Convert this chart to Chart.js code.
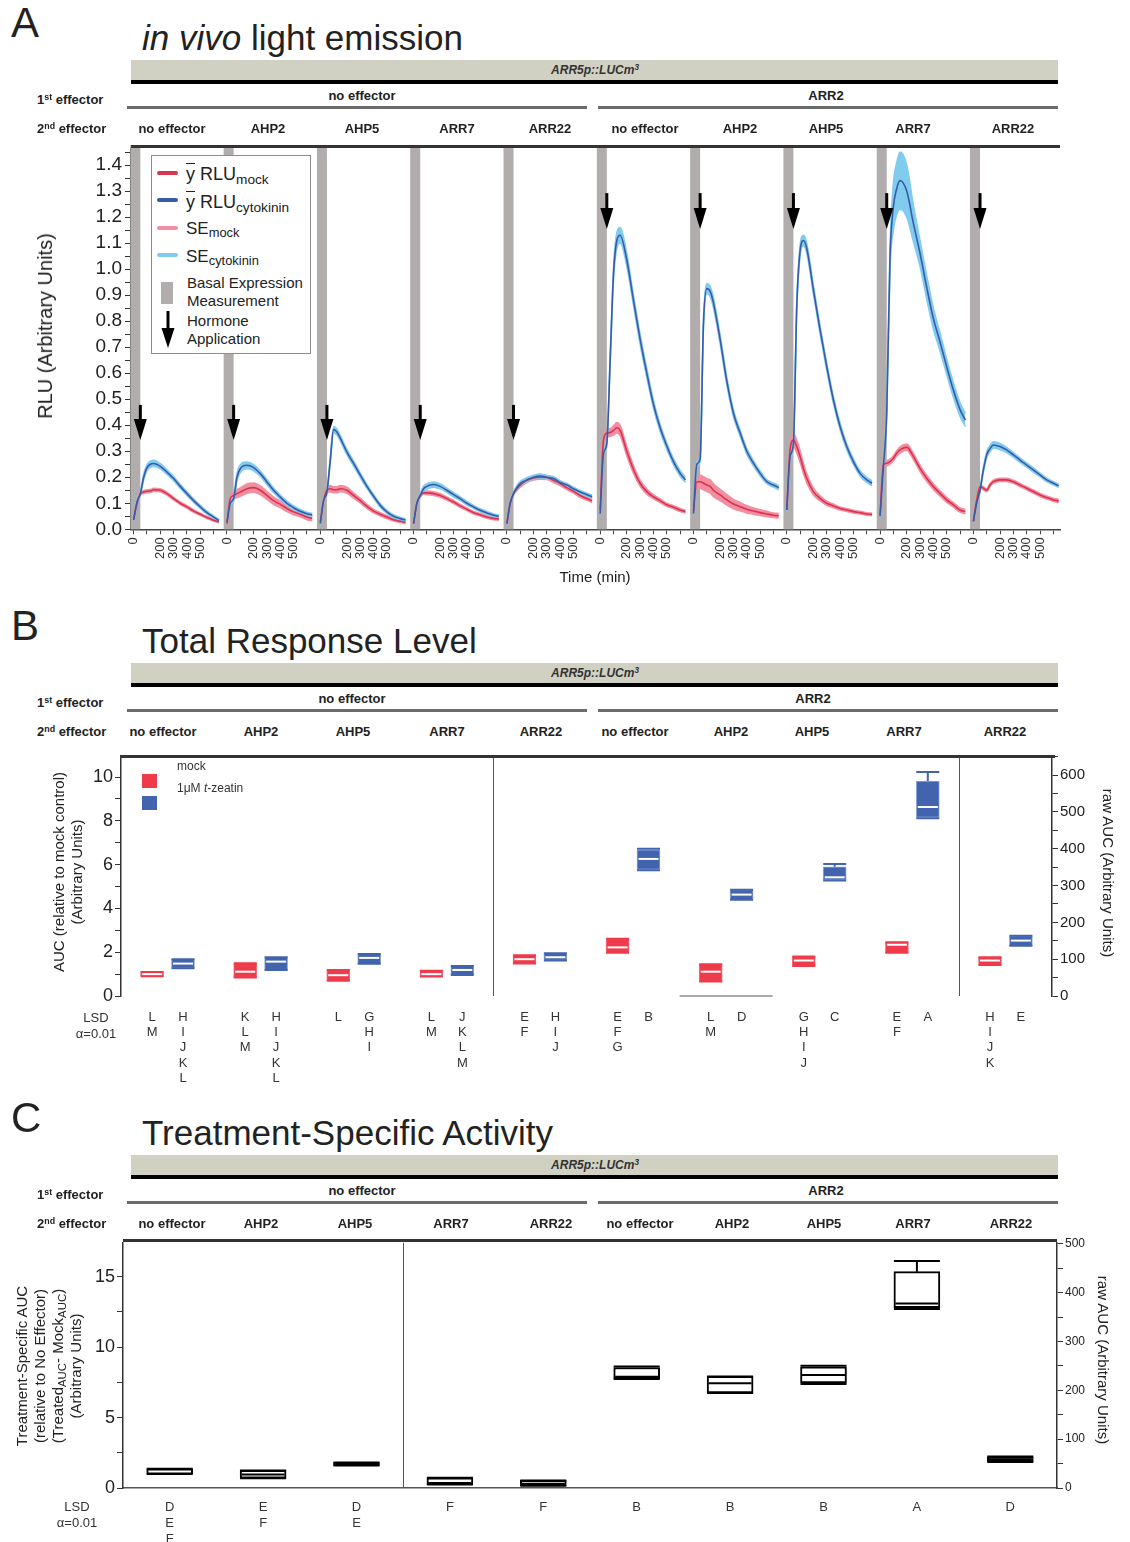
<!DOCTYPE html>
<html>
<head>
<meta charset="utf-8">
<title>ARR5p::LUCm3 response</title>
<script src="https://cdn.jsdelivr.net/npm/chart.js@4.4.1/dist/chart.umd.min.js"></script>
<style>
  body { margin: 0; background: #fff; }
  #page { position: relative; width: 1130px; height: 1542px; overflow: hidden;
          font-family: "Liberation Sans", Arial, Helvetica, sans-serif; color: #222; }
  #page canvas { position: absolute; left: 0; }
  .t { position: absolute; white-space: nowrap; line-height: 1; }
  .b { position: absolute; }
  .sub { font-size: 0.76em; position: relative; top: 0.3em; line-height: 0; }
  .sup { font-size: 0.68em; position: relative; top: -0.45em; line-height: 0; }
</style>
</head>
<body>
<div id="page">
  <canvas id="chartA" width="1130" height="470" style="top:130px"></canvas>
  <canvas id="chartB" width="1130" height="360" style="top:740px"></canvas>
  <canvas id="chartC" width="1130" height="312" style="top:1230px"></canvas>
</div>
<script>
// ---------- data ----------
const firstEffector = ['no effector', 'ARR2'];
const secondEffector = ['no effector', 'AHP2', 'AHP5', 'ARR7', 'ARR22',
                        'no effector', 'AHP2', 'AHP5', 'ARR7', 'ARR22'];

// panel A: time courses, one row per effector combination
const panelSpan = 700;                 // minutes between panel origins on the shared axis
const timeMin = [0, 25, 50, 75, 100, 125, 150, 200, 250, 300, 350, 400, 450, 500, 550, 600, 640];
const timeTickLabels = [0, 200, 300, 400, 500];
const basalWindow = [-25, 50];         // basal expression measurement (min)
const arrowTime = 50;                  // hormone application (min)
const arrowTop = [0.478, 0.478, 0.478, 0.478, 0.478, 1.292, 1.292, 1.292, 1.292, 1.292];
const arrowTip = [0.343, 0.343, 0.343, 0.343, 0.343, 1.154, 1.154, 1.154, 1.154, 1.154];

const mockMean = [
  [0.040, 0.100, 0.137, 0.143, 0.146, 0.147, 0.152, 0.150, 0.137, 0.118, 0.100, 0.086, 0.070, 0.058, 0.045, 0.035, 0.029],
  [0.022, 0.118, 0.130, 0.137, 0.143, 0.150, 0.156, 0.160, 0.150, 0.130, 0.110, 0.096, 0.080, 0.067, 0.058, 0.047, 0.042],
  [0.028, 0.110, 0.150, 0.156, 0.152, 0.152, 0.156, 0.150, 0.130, 0.110, 0.088, 0.070, 0.058, 0.047, 0.037, 0.031, 0.027],
  [0.022, 0.100, 0.130, 0.140, 0.140, 0.139, 0.137, 0.130, 0.118, 0.105, 0.090, 0.077, 0.064, 0.056, 0.047, 0.042, 0.040],
  [0.022, 0.100, 0.137, 0.156, 0.170, 0.180, 0.188, 0.197, 0.200, 0.199, 0.188, 0.176, 0.160, 0.146, 0.130, 0.118, 0.110],
  [0.074, 0.343, 0.370, 0.372, 0.380, 0.390, 0.380, 0.300, 0.230, 0.177, 0.145, 0.125, 0.110, 0.094, 0.085, 0.074, 0.068],
  [0.070, 0.183, 0.183, 0.177, 0.170, 0.165, 0.150, 0.132, 0.113, 0.097, 0.087, 0.077, 0.070, 0.064, 0.059, 0.054, 0.052],
  [0.074, 0.305, 0.343, 0.318, 0.280, 0.234, 0.196, 0.145, 0.119, 0.100, 0.090, 0.080, 0.074, 0.068, 0.064, 0.059, 0.057],
  [0.055, 0.247, 0.254, 0.260, 0.273, 0.292, 0.305, 0.316, 0.280, 0.234, 0.196, 0.164, 0.138, 0.113, 0.094, 0.074, 0.068],
  [0.030, 0.113, 0.164, 0.158, 0.150, 0.170, 0.183, 0.190, 0.190, 0.183, 0.170, 0.158, 0.145, 0.132, 0.122, 0.113, 0.109]
];
const mockSE = [
  [0.004, 0.006, 0.006, 0.006, 0.006, 0.006, 0.006, 0.006, 0.006, 0.005, 0.005, 0.005, 0.005, 0.004, 0.004, 0.004, 0.004],
  [0.005, 0.010, 0.012, 0.015, 0.016, 0.017, 0.018, 0.018, 0.017, 0.015, 0.014, 0.013, 0.012, 0.011, 0.010, 0.010, 0.009],
  [0.004, 0.008, 0.010, 0.012, 0.012, 0.012, 0.012, 0.012, 0.010, 0.009, 0.008, 0.007, 0.006, 0.006, 0.005, 0.005, 0.005],
  [0.004, 0.006, 0.006, 0.006, 0.007, 0.007, 0.007, 0.007, 0.006, 0.006, 0.006, 0.005, 0.005, 0.005, 0.005, 0.005, 0.005],
  [0.004, 0.006, 0.006, 0.008, 0.008, 0.008, 0.008, 0.008, 0.008, 0.008, 0.008, 0.008, 0.007, 0.007, 0.007, 0.007, 0.007],
  [0.005, 0.012, 0.015, 0.015, 0.018, 0.020, 0.020, 0.018, 0.015, 0.012, 0.010, 0.008, 0.007, 0.006, 0.006, 0.006, 0.005],
  [0.005, 0.020, 0.025, 0.025, 0.025, 0.025, 0.025, 0.022, 0.020, 0.018, 0.016, 0.014, 0.012, 0.011, 0.010, 0.009, 0.009],
  [0.005, 0.015, 0.025, 0.025, 0.022, 0.020, 0.018, 0.013, 0.010, 0.008, 0.007, 0.006, 0.006, 0.005, 0.005, 0.005, 0.005],
  [0.005, 0.010, 0.010, 0.010, 0.010, 0.010, 0.012, 0.012, 0.012, 0.012, 0.012, 0.011, 0.010, 0.010, 0.009, 0.008, 0.008],
  [0.004, 0.006, 0.006, 0.006, 0.006, 0.006, 0.006, 0.006, 0.006, 0.006, 0.006, 0.006, 0.006, 0.006, 0.006, 0.006, 0.006]
];
const cytoMean = [
  [0.035, 0.105, 0.137, 0.200, 0.237, 0.250, 0.253, 0.242, 0.220, 0.195, 0.165, 0.137, 0.110, 0.086, 0.064, 0.047, 0.034],
  [0.028, 0.100, 0.118, 0.200, 0.233, 0.244, 0.246, 0.237, 0.214, 0.182, 0.150, 0.124, 0.100, 0.083, 0.069, 0.060, 0.055],
  [0.022, 0.110, 0.143, 0.265, 0.383, 0.374, 0.350, 0.297, 0.253, 0.208, 0.165, 0.127, 0.092, 0.067, 0.050, 0.041, 0.036],
  [0.022, 0.100, 0.130, 0.156, 0.165, 0.170, 0.172, 0.165, 0.150, 0.133, 0.118, 0.100, 0.086, 0.073, 0.063, 0.054, 0.050],
  [0.022, 0.100, 0.137, 0.160, 0.176, 0.184, 0.190, 0.200, 0.205, 0.200, 0.195, 0.180, 0.170, 0.156, 0.143, 0.133, 0.125],
  [0.060, 0.290, 0.330, 0.650, 0.980, 1.110, 1.130, 1.035, 0.880, 0.730, 0.600, 0.480, 0.390, 0.320, 0.260, 0.215, 0.190],
  [0.060, 0.250, 0.270, 0.790, 0.925, 0.915, 0.870, 0.730, 0.570, 0.446, 0.370, 0.300, 0.254, 0.215, 0.183, 0.170, 0.160],
  [0.074, 0.280, 0.330, 0.856, 1.070, 1.110, 1.080, 0.920, 0.766, 0.625, 0.497, 0.395, 0.318, 0.260, 0.215, 0.190, 0.177],
  [0.050, 0.240, 0.450, 1.050, 1.240, 1.310, 1.340, 1.300, 1.176, 1.060, 0.930, 0.810, 0.720, 0.625, 0.535, 0.460, 0.420],
  [0.030, 0.100, 0.150, 0.228, 0.286, 0.310, 0.324, 0.318, 0.305, 0.286, 0.266, 0.247, 0.228, 0.209, 0.190, 0.177, 0.167]
];
const cytoSE = [
  [0.004, 0.008, 0.008, 0.012, 0.012, 0.012, 0.012, 0.010, 0.009, 0.008, 0.008, 0.007, 0.007, 0.006, 0.006, 0.005, 0.005],
  [0.004, 0.008, 0.010, 0.015, 0.015, 0.014, 0.013, 0.012, 0.010, 0.010, 0.009, 0.008, 0.008, 0.007, 0.007, 0.006, 0.006],
  [0.004, 0.008, 0.008, 0.012, 0.012, 0.012, 0.011, 0.010, 0.010, 0.009, 0.008, 0.007, 0.007, 0.006, 0.006, 0.005, 0.005],
  [0.004, 0.006, 0.008, 0.010, 0.010, 0.010, 0.010, 0.009, 0.008, 0.008, 0.007, 0.007, 0.006, 0.006, 0.006, 0.005, 0.005],
  [0.004, 0.006, 0.006, 0.008, 0.008, 0.008, 0.008, 0.008, 0.008, 0.007, 0.007, 0.007, 0.006, 0.006, 0.006, 0.006, 0.006],
  [0.005, 0.010, 0.010, 0.020, 0.025, 0.030, 0.030, 0.025, 0.020, 0.020, 0.018, 0.016, 0.014, 0.012, 0.012, 0.011, 0.010],
  [0.005, 0.010, 0.010, 0.020, 0.020, 0.020, 0.020, 0.018, 0.016, 0.014, 0.012, 0.011, 0.010, 0.009, 0.008, 0.008, 0.008],
  [0.005, 0.010, 0.010, 0.020, 0.020, 0.020, 0.020, 0.018, 0.016, 0.015, 0.014, 0.013, 0.012, 0.011, 0.010, 0.010, 0.010],
  [0.005, 0.010, 0.020, 0.050, 0.090, 0.100, 0.110, 0.100, 0.070, 0.050, 0.045, 0.040, 0.035, 0.030, 0.028, 0.026, 0.025],
  [0.004, 0.006, 0.008, 0.010, 0.012, 0.012, 0.012, 0.012, 0.010, 0.009, 0.009, 0.008, 0.008, 0.007, 0.007, 0.006, 0.006]
];

// panel B: total response level (AUC relative to mock control), box statistics
const groupIdx = [0, 1, 2, 3, 4, 5, 6, 7, 8, 9];
const mockMin = [0.90, 0.84, 0.70, 0.89, 1.48, 1.98, 0.66, 1.37, 1.98, 1.42];
const mockQ1  = [0.90, 0.84, 0.70, 0.89, 1.48, 1.98, 0.66, 1.37, 1.98, 1.42];
const mockMed = [1.00, 1.11, 0.95, 1.00, 1.68, 2.22, 1.11, 1.62, 2.34, 1.62];
const mockQ3  = [1.10, 1.50, 1.19, 1.15, 1.86, 2.61, 1.45, 1.80, 2.46, 1.77];
const mockMax = [1.10, 1.50, 1.19, 1.15, 1.86, 2.61, 1.45, 1.80, 2.46, 1.77];
const zeaMin = [1.27, 1.19, 1.47, 0.96, 1.62, 5.74, 4.40, 5.28, 8.12, 2.30];
const zeaQ1  = [1.27, 1.19, 1.47, 0.96, 1.62, 5.78, 4.40, 5.30, 8.15, 2.30];
const zeaMed = [1.48, 1.57, 1.74, 1.19, 1.77, 6.26, 4.63, 5.42, 8.63, 2.53];
const zeaQ3  = [1.68, 1.77, 1.92, 1.37, 1.95, 6.68, 4.85, 5.90, 9.82, 2.75];
const zeaMax = [1.68, 1.77, 1.92, 1.37, 1.95, 6.72, 4.85, 6.03, 10.23, 2.75];
const lsdMock = ['LM', 'KLM', 'L', 'LM', 'EF', 'EFG', 'LM', 'GHIJ', 'EF', 'HIJK'];
const lsdZea  = ['HIJKL', 'HIJKL', 'GHI', 'JKLM', 'HIJ', 'B', 'D', 'C', 'A', 'E'];
const bDividers = [3.5, 8.5];
const bAxisPiece = [5.5, 6.5];

// panel C: treatment-specific AUC, box statistics
const tsMin = [0.99, 0.70, 1.60, 0.24, 0.16, 7.74, 6.75, 7.38, 12.70, 1.84];
const tsQ1  = [0.99, 0.70, 1.60, 0.24, 0.16, 7.76, 6.75, 7.45, 12.80, 1.86];
const tsMed = [1.00, 0.95, 1.70, 0.36, 0.30, 7.90, 7.43, 8.02, 13.10, 2.04];
const tsQ3  = [1.36, 1.25, 1.81, 0.73, 0.54, 8.55, 7.92, 8.60, 15.35, 2.22];
const tsMax = [1.36, 1.25, 1.81, 0.73, 0.54, 8.63, 7.92, 8.68, 16.10, 2.24];
const lsdTS = ['DEF', 'EF', 'DE', 'F', 'F', 'B', 'B', 'B', 'A', 'D'];
const cDividers = [2.5];

// ---------- colours ----------
const RED_LINE = '#d8334f', BLUE_LINE = '#3a5aa8';
const PINK_SE = '#f38ea1', CYAN_SE = '#80ccef';
const BASAL = '#b2adad';
const BOX_RED = '#ee3a4a', BOX_BLUE = '#4263ad';

Chart.defaults.font.family = '"Liberation Sans", Arial, Helvetica, sans-serif';
Chart.defaults.color = '#222';

// ---------- page text / rules ----------
const page = document.getElementById('page');

function txt(html, x, base, size, align, extra) {
  const d = document.createElement('div');
  d.className = 't';
  d.innerHTML = html;
  d.style.fontSize = size + 'px';
  d.style.top = (base - 0.85 * size) + 'px';
  d.style.left = x + 'px';
  if (align === 'center') d.style.transform = 'translateX(-50%)';
  if (align === 'right') d.style.transform = 'translateX(-100%)';
  if (extra) Object.assign(d.style, extra);
  page.appendChild(d);
  return d;
}
function rot(html, cx, cy, size, deg) {
  const d = document.createElement('div');
  d.className = 't';
  d.innerHTML = html;
  d.style.fontSize = size + 'px';
  d.style.left = cx + 'px';
  d.style.top = cy + 'px';
  d.style.transform = `translate(-50%,-50%) rotate(${deg}deg)`;
  page.appendChild(d);
}
function rect(x, y, w, h, color, extra) {
  const d = document.createElement('div');
  d.className = 'b';
  Object.assign(d.style, { left: x + 'px', top: y + 'px', width: w + 'px', height: h + 'px', background: color });
  if (extra) Object.assign(d.style, extra);
  page.appendChild(d);
  return d;
}

function header(dy, letter, title, firstX, secondX, frame) {
  txt(letter, 11, 38 + dy, 42);
  txt(title, 142, 50 + dy, 35);
  rect(131, 60 + dy, 927, 20, '#d1d1c3');
  txt('ARR5p::LUCm<span class="sup">3</span>', 595, 74 + dy, 12, 'center',
      { fontWeight: 'bold', fontStyle: 'italic', color: '#333' });
  rect(131, 80 + dy, 927, 4, '#000');
  const lab = { fontWeight: 'bold', color: '#222' };
  txt('1<span class="sup">st</span> effector', 37, 104 + dy, 13, null, lab);
  txt('2<span class="sup">nd</span> effector', 37, 133 + dy, 13, null, lab);
  firstEffector.forEach((s, i) => txt(s, firstX[i], 100 + dy, 13, 'center', lab));
  rect(127, 106 + dy, 460, 3, '#6b6b6b');
  rect(598, 106 + dy, 460, 3, '#6b6b6b');
  secondEffector.forEach((s, i) => txt(s, secondX[i], 133 + dy, 13, 'center', lab));
  rect(frame[0], frame[2], frame[1] - frame[0], 3, '#333');
}

header(0, 'A', '<i>in vivo</i> light emission', [362, 826],
       [172, 268, 362, 457, 550, 645, 740, 826, 913, 1013], [131, 1060, 145]);
header(603, 'B', 'Total Response Level', [352, 813],
       [163, 261, 353, 447, 541, 635, 731, 812, 904, 1005], [121, 1055, 755]);
header(1095, 'C', 'Treatment-Specific Activity', [362, 826],
       [172, 261, 355, 451, 551, 640, 732, 824, 913, 1011], [123, 1057, 1239]);

// axis titles
rot('RLU (Arbitrary Units)', 45, 326, 20, -90);
txt('Time (min)', 595, 582, 15, 'center');
rot('AUC (relative to mock control)', 58, 872, 15, -90);
rot('(Arbitrary Units)', 76, 872, 15, -90);
rot('raw AUC (Arbitrary Units)', 1108, 873, 15, 90);
rot('Treatment-Specific AUC', 21, 1366, 15, -90);
rot('(relative to No Effector)', 39, 1366, 15, -90);
rot('(Treated<span class="sub">AUC</span>- Mock<span class="sub">AUC</span>)', 57, 1366, 15, -90);
rot('(Arbitrary Units)', 75, 1366, 15, -90);
rot('raw AUC (Arbitrary Units)', 1103, 1360, 15, 90);
txt('LSD', 96, 1022, 13, 'center', { color: '#333' });
txt('α=0.01', 96, 1038, 13, 'center', { color: '#333' });
txt('LSD', 77, 1511, 13, 'center', { color: '#333' });
txt('α=0.01', 77, 1527, 13, 'center', { color: '#333' });

// panel A legend
rect(151, 155, 158, 197, '#fff', { border: '1px solid #8c8c8c' });
const sw = (y, c) => rect(157, y - 2, 21, 4, c, { borderRadius: '2px' });
sw(173, RED_LINE); sw(200, BLUE_LINE); sw(228, PINK_SE); sw(255, CYAN_SE);
const ybar = '<span style="text-decoration:overline">y</span>';
txt(ybar + ' RLU<span class="sub">mock</span>', 186, 180, 18);
txt(ybar + ' RLU<span class="sub">cytokinin</span>', 186, 208, 18);
txt('SE<span class="sub">mock</span>', 186, 234, 17);
txt('SE<span class="sub">cytokinin</span>', 186, 262, 17);
rect(161, 282, 12, 22, BASAL);
txt('Basal Expression', 187, 288, 15);
txt('Measurement', 187, 306, 15);
const arr = document.createElementNS('http://www.w3.org/2000/svg', 'svg');
arr.setAttribute('width', '16'); arr.setAttribute('height', '38');
arr.style.position = 'absolute'; arr.style.left = '160px'; arr.style.top = '311px';
arr.innerHTML = '<rect x="6.5" y="0" width="3" height="18" fill="#000"/><polygon points="1.5,17 14.5,17 8,37" fill="#000"/>';
page.appendChild(arr);
txt('Hormone', 187, 326, 15);
txt('Application', 187, 344, 15);

// panel B legend
rect(142, 774, 15, 14, BOX_RED);
rect(142, 796, 15, 14, BOX_BLUE);
txt('mock', 177, 770, 12, null, { color: '#333' });
txt('1μM <i>t</i>-zeatin', 177, 792, 12, null, { color: '#333' });

// ---------- helpers for chart.js ----------
// fixed tick positions every `step`, from 0 up to the axis max
const everyStep = step => scale => {
  const out = [];
  for (let i = 0; i * step <= scale.max + 1e-9; i++) out.push({ value: +(i * step).toFixed(6) });
  scale.ticks = out;
};

const basalPlugin = {
  id: 'basal',
  beforeDatasetsDraw(chart) {
    const { ctx, chartArea, scales: { x } } = chart;
    ctx.save();
    ctx.fillStyle = BASAL;
    mockMean.forEach((_, k) => {
      const x0 = x.getPixelForValue(k * panelSpan + basalWindow[0]);
      const x1 = x.getPixelForValue(k * panelSpan + basalWindow[1]);
      ctx.fillRect(x0, chartArea.top - 4, x1 - x0, chartArea.bottom - chartArea.top + 4);
    });
    ctx.restore();
  }
};

const arrowPlugin = {
  id: 'arrows',
  afterDatasetsDraw(chart) {
    const { ctx, scales: { x, y } } = chart;
    ctx.save();
    ctx.fillStyle = '#000';
    arrowTop.forEach((top, k) => {
      const px = x.getPixelForValue(k * panelSpan + arrowTime);
      const y0 = y.getPixelForValue(top);
      const y1 = y.getPixelForValue(arrowTip[k]);
      const head = 21;
      ctx.fillRect(px - 1.5, y0, 3, y1 - y0 - head + 1);
      ctx.beginPath();
      ctx.moveTo(px - 6.5, y1 - head);
      ctx.lineTo(px + 6.5, y1 - head);
      ctx.lineTo(px, y1);
      ctx.closePath();
      ctx.fill();
    });
    ctx.restore();
  }
};

function boxParts(series) {
  return {
    id: 'boxParts',
    afterDatasetsDraw(chart) {
      const { ctx, scales: { x, y } } = chart;
      ctx.save();
      ctx.lineWidth = 2;
      series.forEach(s => {
        const half = s.width / 2;
        s.pos.forEach((p, i) => {
          const cx = x.getPixelForValue(p);
          const yMin = y.getPixelForValue(s.min[i]), yMax = y.getPixelForValue(s.max[i]);
          const yQ1 = y.getPixelForValue(s.q1[i]), yQ3 = y.getPixelForValue(s.q3[i]);
          ctx.strokeStyle = s.whisker;
          ctx.beginPath();
          ctx.moveTo(cx, yQ3); ctx.lineTo(cx, yMax);
          ctx.moveTo(cx, yQ1); ctx.lineTo(cx, yMin);
          ctx.moveTo(cx - half, yMax); ctx.lineTo(cx + half, yMax);
          ctx.moveTo(cx - half, yMin); ctx.lineTo(cx + half, yMin);
          ctx.stroke();
          const yMed = y.getPixelForValue(s.med[i]);
          ctx.strokeStyle = s.median;
          ctx.beginPath();
          ctx.moveTo(cx - half + 1.5, yMed); ctx.lineTo(cx + half - 1.5, yMed);
          ctx.stroke();
        });
      });
      ctx.restore();
    }
  };
}

function dividers(vals) {
  return {
    id: 'dividers',
    afterDatasetsDraw(chart) {
      const { ctx, chartArea, scales: { x } } = chart;
      ctx.save();
      ctx.strokeStyle = '#555';
      ctx.lineWidth = 1;
      vals.forEach(v => {
        const px = Math.round(x.getPixelForValue(v)) + 0.5;
        ctx.beginPath();
        ctx.moveTo(px, chartArea.top);
        ctx.lineTo(px, chartArea.bottom);
        ctx.stroke();
      });
      ctx.restore();
    }
  };
}

function lsdLetters(rows, gap, step) {
  return {
    id: 'lsd',
    afterDraw(chart) {
      const { ctx, chartArea, scales: { x } } = chart;
      ctx.save();
      ctx.font = '13px "Liberation Sans", Arial, sans-serif';
      ctx.fillStyle = '#333';
      ctx.textAlign = 'center';
      ctx.textBaseline = 'middle';
      rows.forEach(r => r.pos.forEach((p, i) => {
        const cx = x.getPixelForValue(p);
        [...r.letters[i]].forEach((ch, j) => ctx.fillText(ch, cx, chartArea.bottom + gap + j * step));
      }));
      ctx.restore();
    }
  };
}

// ---------- chart A ----------
const datasetsA = [];
const band = (pts, color, order, fill) => ({
  data: pts, borderColor: color, backgroundColor: color, borderWidth: 1.5,
  pointRadius: 0, fill, order, cubicInterpolationMode: 'monotone'
});
const meanLine = (pts, color, order) => ({
  data: pts, borderColor: color, borderWidth: 1.6, pointRadius: 0,
  fill: false, order, cubicInterpolationMode: 'monotone'
});
mockMean.forEach((m, k) => {
  const off = k * panelSpan;
  const pts = vals => timeMin.map((t, i) => ({ x: off + t, y: vals[i] }));
  const c = cytoMean[k];
  datasetsA.push(band(pts(m.map((v, i) => v - mockSE[k][i])), PINK_SE, 3, false));
  datasetsA.push(band(pts(m.map((v, i) => v + mockSE[k][i])), PINK_SE, 3, '-1'));
  datasetsA.push(band(pts(c.map((v, i) => v - cytoSE[k][i])), CYAN_SE, 2, false));
  datasetsA.push(band(pts(c.map((v, i) => v + cytoSE[k][i])), CYAN_SE, 2, '-1'));
  datasetsA.push(meanLine(pts(m), RED_LINE, 1));
  datasetsA.push(meanLine(pts(c), BLUE_LINE, 0));
});

new Chart(document.getElementById('chartA'), {
  type: 'line',
  data: { datasets: datasetsA },
  options: {
    responsive: false, animation: false, devicePixelRatio: 1,
    layout: { padding: { left: 0, right: 70, top: 19.4, bottom: 0 } },
    plugins: { legend: { display: false }, tooltip: { enabled: false } },
    scales: {
      x: {
        type: 'linear', min: -20, max: 6950,
        afterFit: s => { s.height = 70.7; },
        afterBuildTicks: everyStep(100),
        ticks: {
          autoSkip: false, minRotation: 90, maxRotation: 90, padding: 3,
          font: { size: 13 }, color: '#333',
          callback: v => {
            const r = Math.round(v) % panelSpan;
            return timeTickLabels.includes(r) ? String(r) : '';
          }
        },
        grid: { drawOnChartArea: false, drawTicks: true, tickLength: 5, color: '#444' },
        border: { color: '#444', width: 1.5 }
      },
      y: {
        min: 0, max: 1.46,
        afterFit: s => { s.width = 131; },
        afterBuildTicks: everyStep(0.05),
        ticks: {
          autoSkip: false, padding: 3, font: { size: 19 }, color: '#222',
          callback: v => {
            const r = Math.round(v * 100);
            return r % 10 === 0 ? (r / 100).toFixed(1) : '';
          }
        },
        grid: { drawOnChartArea: false, drawTicks: true, tickLength: 6, color: '#333' },
        border: { color: '#333', width: 2 }
      }
    }
  },
  plugins: [basalPlugin, arrowPlugin]
});

// ---------- chart B ----------
const pairOffset = 0.166;
const posMock = groupIdx.map(g => g - pairOffset);
const posZea = groupIdx.map(g => g + pairOffset);

new Chart(document.getElementById('chartB'), {
  type: 'bar',
  data: {
    datasets: [
      { label: 'mock', data: posMock.map((p, i) => ({ x: p, y: [mockQ1[i], mockQ3[i]] })),
        backgroundColor: BOX_RED, borderColor: '#f26d79', borderWidth: 1, borderSkipped: false,
        barThickness: 23, grouped: false, yAxisID: 'y' },
      { label: '1μM t-zeatin', data: posZea.map((p, i) => ({ x: p, y: [zeaQ1[i], zeaQ3[i]] })),
        backgroundColor: BOX_BLUE, borderColor: '#8ea6d6', borderWidth: 1, borderSkipped: false,
        barThickness: 23, grouped: false, yAxisID: 'y' },
      { type: 'line', data: bAxisPiece.map(v => ({ x: v, y: 0 })), borderColor: '#555',
        borderWidth: 1.2, pointRadius: 0, yAxisID: 'y', clip: 4 }
    ]
  },
  options: {
    responsive: false, animation: false, devicePixelRatio: 1,
    layout: { padding: { left: 0, right: 0, top: 16, bottom: 104 } },
    plugins: { legend: { display: false }, tooltip: { enabled: false } },
    scales: {
      x: { type: 'linear', min: -0.5, max: 9.5, offset: false, display: false },
      y: {
        position: 'left', min: 0, max: 10.96,
        afterFit: s => { s.width = 121; },
        afterBuildTicks: everyStep(1),
        ticks: { autoSkip: false, padding: 2, font: { size: 18 }, color: '#222',
                 callback: v => (Math.round(v) % 2 === 0 ? String(Math.round(v)) : '') },
        grid: { drawOnChartArea: false, tickLength: 6, color: '#333' },
        border: { color: '#333', width: 1.5 }
      },
      y2: {
        position: 'right', min: 0, max: 652,
        afterFit: s => { s.width = 78; },
        afterBuildTicks: everyStep(50),
        ticks: { autoSkip: false, padding: 2, font: { size: 15 }, color: '#222',
                 callback: v => (Math.round(v) % 100 === 0 ? String(Math.round(v)) : '') },
        grid: { drawOnChartArea: false, tickLength: 6, color: '#333' },
        border: { color: '#333', width: 1.5 }
      }
    }
  },
  plugins: [
    dividers(bDividers),
    boxParts([
      { pos: posMock, min: mockMin, q1: mockQ1, med: mockMed, q3: mockQ3, max: mockMax,
        width: 23, whisker: BOX_RED, median: '#fff' },
      { pos: posZea, min: zeaMin, q1: zeaQ1, med: zeaMed, q3: zeaQ3, max: zeaMax,
        width: 23, whisker: BOX_BLUE, median: '#fff' }
    ]),
    lsdLetters([{ pos: posMock, letters: lsdMock }, { pos: posZea, letters: lsdZea }], 21, 15.4)
  ]
});

// ---------- chart C ----------
new Chart(document.getElementById('chartC'), {
  type: 'bar',
  data: {
    datasets: [
      { label: 'treatment-specific AUC', data: groupIdx.map((g, i) => ({ x: g, y: [tsQ1[i], tsQ3[i]] })),
        backgroundColor: '#fff', borderColor: '#000', borderWidth: 2, borderSkipped: false,
        barThickness: 46, grouped: false, yAxisID: 'y' }
    ]
  },
  options: {
    responsive: false, animation: false, devicePixelRatio: 1,
    layout: { padding: { left: 0, right: 0, top: 11, bottom: 0 } },
    plugins: { legend: { display: false }, tooltip: { enabled: false } },
    scales: {
      x: {
        type: 'linear', min: -0.5, max: 9.5, offset: false,
        afterFit: s => { s.height = 54; },
        ticks: { display: false },
        grid: { display: false },
        border: { display: true, color: '#555', width: 1.5 }
      },
      y: {
        position: 'left', min: 0, max: 17.4,
        afterFit: s => { s.width = 123; },
        afterBuildTicks: everyStep(2.5),
        ticks: { autoSkip: false, padding: 2, font: { size: 18 }, color: '#222',
                 callback: v => (Math.round(v * 10) % 50 === 0 ? String(Math.round(v)) : '') },
        grid: { drawOnChartArea: false, tickLength: 6, color: '#333' },
        border: { color: '#333', width: 1.5 }
      },
      y2: {
        position: 'right', min: 0, max: 502,
        afterFit: s => { s.width = 73; },
        afterBuildTicks: everyStep(50),
        ticks: { autoSkip: false, padding: 2, font: { size: 12 }, color: '#222',
                 callback: v => (Math.round(v) % 100 === 0 ? String(Math.round(v)) : '') },
        grid: { drawOnChartArea: false, tickLength: 6, color: '#333' },
        border: { color: '#333', width: 1.5 }
      }
    }
  },
  plugins: [
    dividers(cDividers),
    boxParts([{ pos: groupIdx, min: tsMin, q1: tsQ1, med: tsMed, q3: tsQ3, max: tsMax,
                width: 46, whisker: '#000', median: '#000' }]),
    lsdLetters([{ pos: groupIdx, letters: lsdTS }], 19, 16)
  ]
});
</script>
</body>
</html>
